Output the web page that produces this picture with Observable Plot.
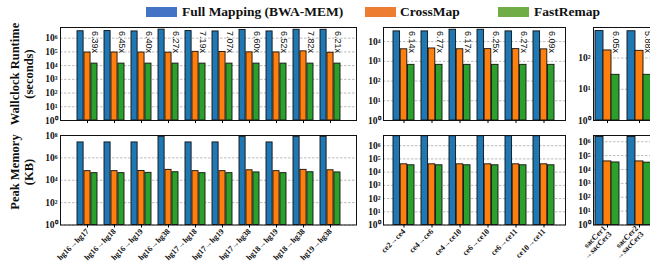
<!DOCTYPE html>
<html><head><meta charset="utf-8">
<script src="https://cdn.jsdelivr.net/npm/d3@7"></script>
<script src="https://cdn.jsdelivr.net/npm/@observablehq/plot@0.6"></script>
<style>
body{margin:0;background:#fff;}
#root{position:relative;width:650px;height:272px;overflow:hidden;background:#fff;}
#root svg{position:absolute;overflow:visible;}
.sw{position:absolute;height:10px;width:31px;top:7px;}
.lt{position:absolute;top:5px;font:bold 13.5px "Liberation Serif",serif;line-height:14px;white-space:nowrap;color:#111;}
.yt{position:absolute;font:bold 12.5px "Liberation Serif",serif;text-align:center;line-height:14px;white-space:nowrap;color:#111;transform:translate(-50%,-50%) rotate(-90deg);}
</style></head>
<body><div id="root"></div>
<script>
// ---------- data ----------
const seriesNames = ["Full Mapping (BWA-MEM)", "CrossMap", "FastRemap"];
const barColors = ["#1f77b4", "#ff7f0e", "#2ca02c"];
const legendColors = ["#4472c4", "#ed7d31", "#70ad47"];

const hgPairs = ["hg16→hg17","hg16→hg18","hg16→hg19","hg16→hg38","hg17→hg18","hg17→hg19","hg17→hg38","hg18→hg19","hg18→hg38","hg19→hg38"];
const hgRuntimeBWA = [3.2e6,3.3e6,3.1e6,4.2e6,3.3e6,3.1e6,4.0e6,3.1e6,4.1e6,4.1e6];
const hgRuntimeCrossMap = [8.95e4,9.03e4,8.96e4,8.78e4,1.007e5,9.9e4,9.24e4,9.13e4,1.095e5,8.69e4];
const hgRuntimeFastRemap = [1.4e4,1.4e4,1.4e4,1.4e4,1.4e4,1.4e4,1.4e4,1.4e4,1.4e4,1.4e4];
const hgSpeedup = ["6.39x","6.45x","6.40x","6.27x","7.19x","7.07x","6.60x","6.52x","7.82x","6.21x"];
const hgMemBWA = [2.4e7,2.4e7,2.4e7,7.6e7,2.4e7,2.4e7,7.6e7,2.4e7,7.6e7,7.6e7];
const hgMemCrossMap = [6.5e4,6.5e4,6.8e4,8.5e4,6.5e4,6.5e4,7.8e4,6.5e4,8.5e4,7.8e4];
const hgMemFastRemap = [4.3e4,4.3e4,4.6e4,5.2e4,4.3e4,4.3e4,5.0e4,4.3e4,5.2e4,5.0e4];

const cePairs = ["ce2→ce4","ce4→ce6","ce4→ce10","ce6→ce10","ce6→ce11","ce10→ce11"];
const ceRuntimeBWA = [3.3e4,3.3e4,4.0e4,4.0e4,3.3e4,3.3e4];
const ceRuntimeCrossMap = [4083,4502,4103,4156,4170,4050];
const ceRuntimeFastRemap = [665,665,665,665,665,665];
const ceSpeedup = ["6.14x","6.77x","6.17x","6.25x","6.27x","6.09x"];
const ceMemBWA = [5.2e6,5.2e6,5.2e6,5.2e6,5.2e6,5.2e6];
const ceMemCrossMap = [3.9e4,3.9e4,3.9e4,3.9e4,3.9e4,3.9e4];
const ceMemFastRemap = [3.3e4,3.3e4,3.3e4,3.3e4,3.3e4,3.3e4];

const sacPairs = ["sacCer1\n→sacCer3","sacCer2\n→sacCer3"];
const sacRuntimeBWA = [730,720];
const sacRuntimeCrossMap = [175,170];
const sacRuntimeFastRemap = [29,29];
const sacSpeedup = ["6.05x","5.88x"];
const sacMemBWA = [2.2e6,2.2e6];
const sacMemCrossMap = [3.8e4,3.8e4];
const sacMemFastRemap = [3.2e4,3.1e4];

const yLabels = [["Wallclock Runtime","(seconds)"],["Peak Memory","(KB)"]];
const hgRuntimeTicks = [0,1,2,3,4,5,6], ceRuntimeTicks = [0,1,2,3,4], sacRuntimeTicks = [0,1,2];
const hgMemTicks = [0,2,4,6,8], ceMemTicks = [0,1,2,3,4,5,6], sacMemTicks = [0,1,2,3,4,5,6];

// ---------- drawing ----------
const root = document.getElementById("root");
const sup = "⁰¹²³⁴⁵⁶⁷⁸⁹";
const fmt = d => "10" + String(Math.round(Math.log10(d))).split("").map(c => sup[+c]).join("");
const serif = "'Liberation Serif', serif";

function panel({groups, a, b, c, labels, box, centers, yTop, ticks, xLabels}) {
  const mL = 50, mR = 2, mT = 4, mB = xLabels ? 50 : 10;
  const left = box[0] - mL, top = box[2] - mT;
  const width = mL + box[1] - box[0] + mR, height = mT + box[3] - box[2] + mB;
  const n = groups.length;
  const step = (centers[1] - centers[0]) / (n - 1);
  const bw = step * 0.75, w = bw / 3;
  const rows = groups.map((g, i) => ({g, a: a[i], b: b[i], c: c[i], r: labels ? labels[i] : ""}));
  const tv = ticks.map(e => Math.pow(10, e));
  const bar = (key, k) => Plot.barY(rows, {
    x: "g", y1: () => 1, y2: key, fill: barColors[k], stroke: "#111", strokeWidth: 0.9,
    insetLeft: k * w, insetRight: (2 - k) * w
  });
  const marks = [
    Plot.gridY(tv, {stroke: "#aaa", strokeOpacity: 1, strokeWidth: 0.8, strokeDasharray: "2.5,1.5"}),
    bar("a", 0), bar("b", 1), bar("c", 2),
    Plot.frame({stroke: "#111", strokeWidth: 1}),
    Plot.axisY(tv, {tickFormat: fmt, tickSize: 0, tickPadding: 3, fontSize: 9.5, fontWeight: "bold", fontFamily: serif, label: null, fill: "#111"}),
  ];
  if (labels) marks.push(Plot.text(rows, {x: "g", y: () => yTop, text: "r", rotate: 90, textAnchor: "start",
    dx: w + 0.5, dy: 3.5, fontSize: 9, fontFamily: "'Liberation Sans', sans-serif", fill: "#111"}));
  if (xLabels) marks.push(Plot.axisX({tickRotate: -45, tickSize: 3, tickPadding: 2, fontSize: 8, fontWeight: "bold", fontFamily: serif, label: null, fill: "#111"}));
  else marks.push(Plot.axisX({tickSize: 3, tickFormat: () => "", label: null}));
  const svg = Plot.plot({
    width, height, marginLeft: mL, marginRight: mR, marginTop: mT, marginBottom: mB,
    style: {background: "transparent", overflow: "visible"},
    x: {type: "band", domain: groups, range: [centers[0] - step / 2 - left, centers[1] + step / 2 - left], paddingInner: 0.25, paddingOuter: 0.125},
    y: {type: "log", domain: [1, yTop]},
    marks
  });
  svg.style.left = left + "px";
  svg.style.top = top + "px";
  root.appendChild(svg);
}

const topBox = [27, 120], botBox = [135, 224.5];
const hgX = {box: [60, 356], centers: [84, 334]};
const ceX = {box: [383, 565], centers: [401.7, 546]};
const sacX = {box: [593, 654], centers: [607, 639]};

panel({groups: hgPairs, a: hgRuntimeBWA, b: hgRuntimeCrossMap, c: hgRuntimeFastRemap, labels: hgSpeedup,
  box: [...hgX.box, ...topBox], centers: hgX.centers, yTop: 6.0e6, ticks: hgRuntimeTicks, xLabels: false});
panel({groups: cePairs, a: ceRuntimeBWA, b: ceRuntimeCrossMap, c: ceRuntimeFastRemap, labels: ceSpeedup,
  box: [...ceX.box, ...topBox], centers: ceX.centers, yTop: 5.2e4, ticks: ceRuntimeTicks, xLabels: false});
panel({groups: sacPairs, a: sacRuntimeBWA, b: sacRuntimeCrossMap, c: sacRuntimeFastRemap, labels: sacSpeedup,
  box: [...sacX.box, ...topBox], centers: sacX.centers, yTop: 950, ticks: sacRuntimeTicks, xLabels: false});
panel({groups: hgPairs, a: hgMemBWA, b: hgMemCrossMap, c: hgMemFastRemap, labels: null,
  box: [...hgX.box, ...botBox], centers: hgX.centers, yTop: 1e8, ticks: hgMemTicks, xLabels: true});
panel({groups: cePairs, a: ceMemBWA, b: ceMemCrossMap, c: ceMemFastRemap, labels: null,
  box: [...ceX.box, ...botBox], centers: ceX.centers, yTop: 5.9e6, ticks: ceMemTicks, xLabels: true});
panel({groups: sacPairs, a: sacMemBWA, b: sacMemCrossMap, c: sacMemFastRemap, labels: null,
  box: [...sacX.box, ...botBox], centers: sacX.centers, yTop: 2.8e6, ticks: sacMemTicks, xLabels: true});

// legend
const legX = [[146, 182], [365, 400], [498, 534]];
seriesNames.forEach((s, i) => {
  const sw = document.createElement("div");
  sw.className = "sw"; sw.style.left = legX[i][0] + "px"; sw.style.background = legendColors[i];
  root.appendChild(sw);
  const t = document.createElement("div");
  t.className = "lt"; t.style.left = legX[i][1] + "px"; t.textContent = s;
  root.appendChild(t);
});
// y titles
[[22, 74], [22, 172]].forEach(([x, y], i) => {
  const d = document.createElement("div");
  d.className = "yt"; d.style.left = x + "px"; d.style.top = y + "px";
  d.innerHTML = yLabels[i].join("<br>");
  root.appendChild(d);
});
</script>
</body></html>
